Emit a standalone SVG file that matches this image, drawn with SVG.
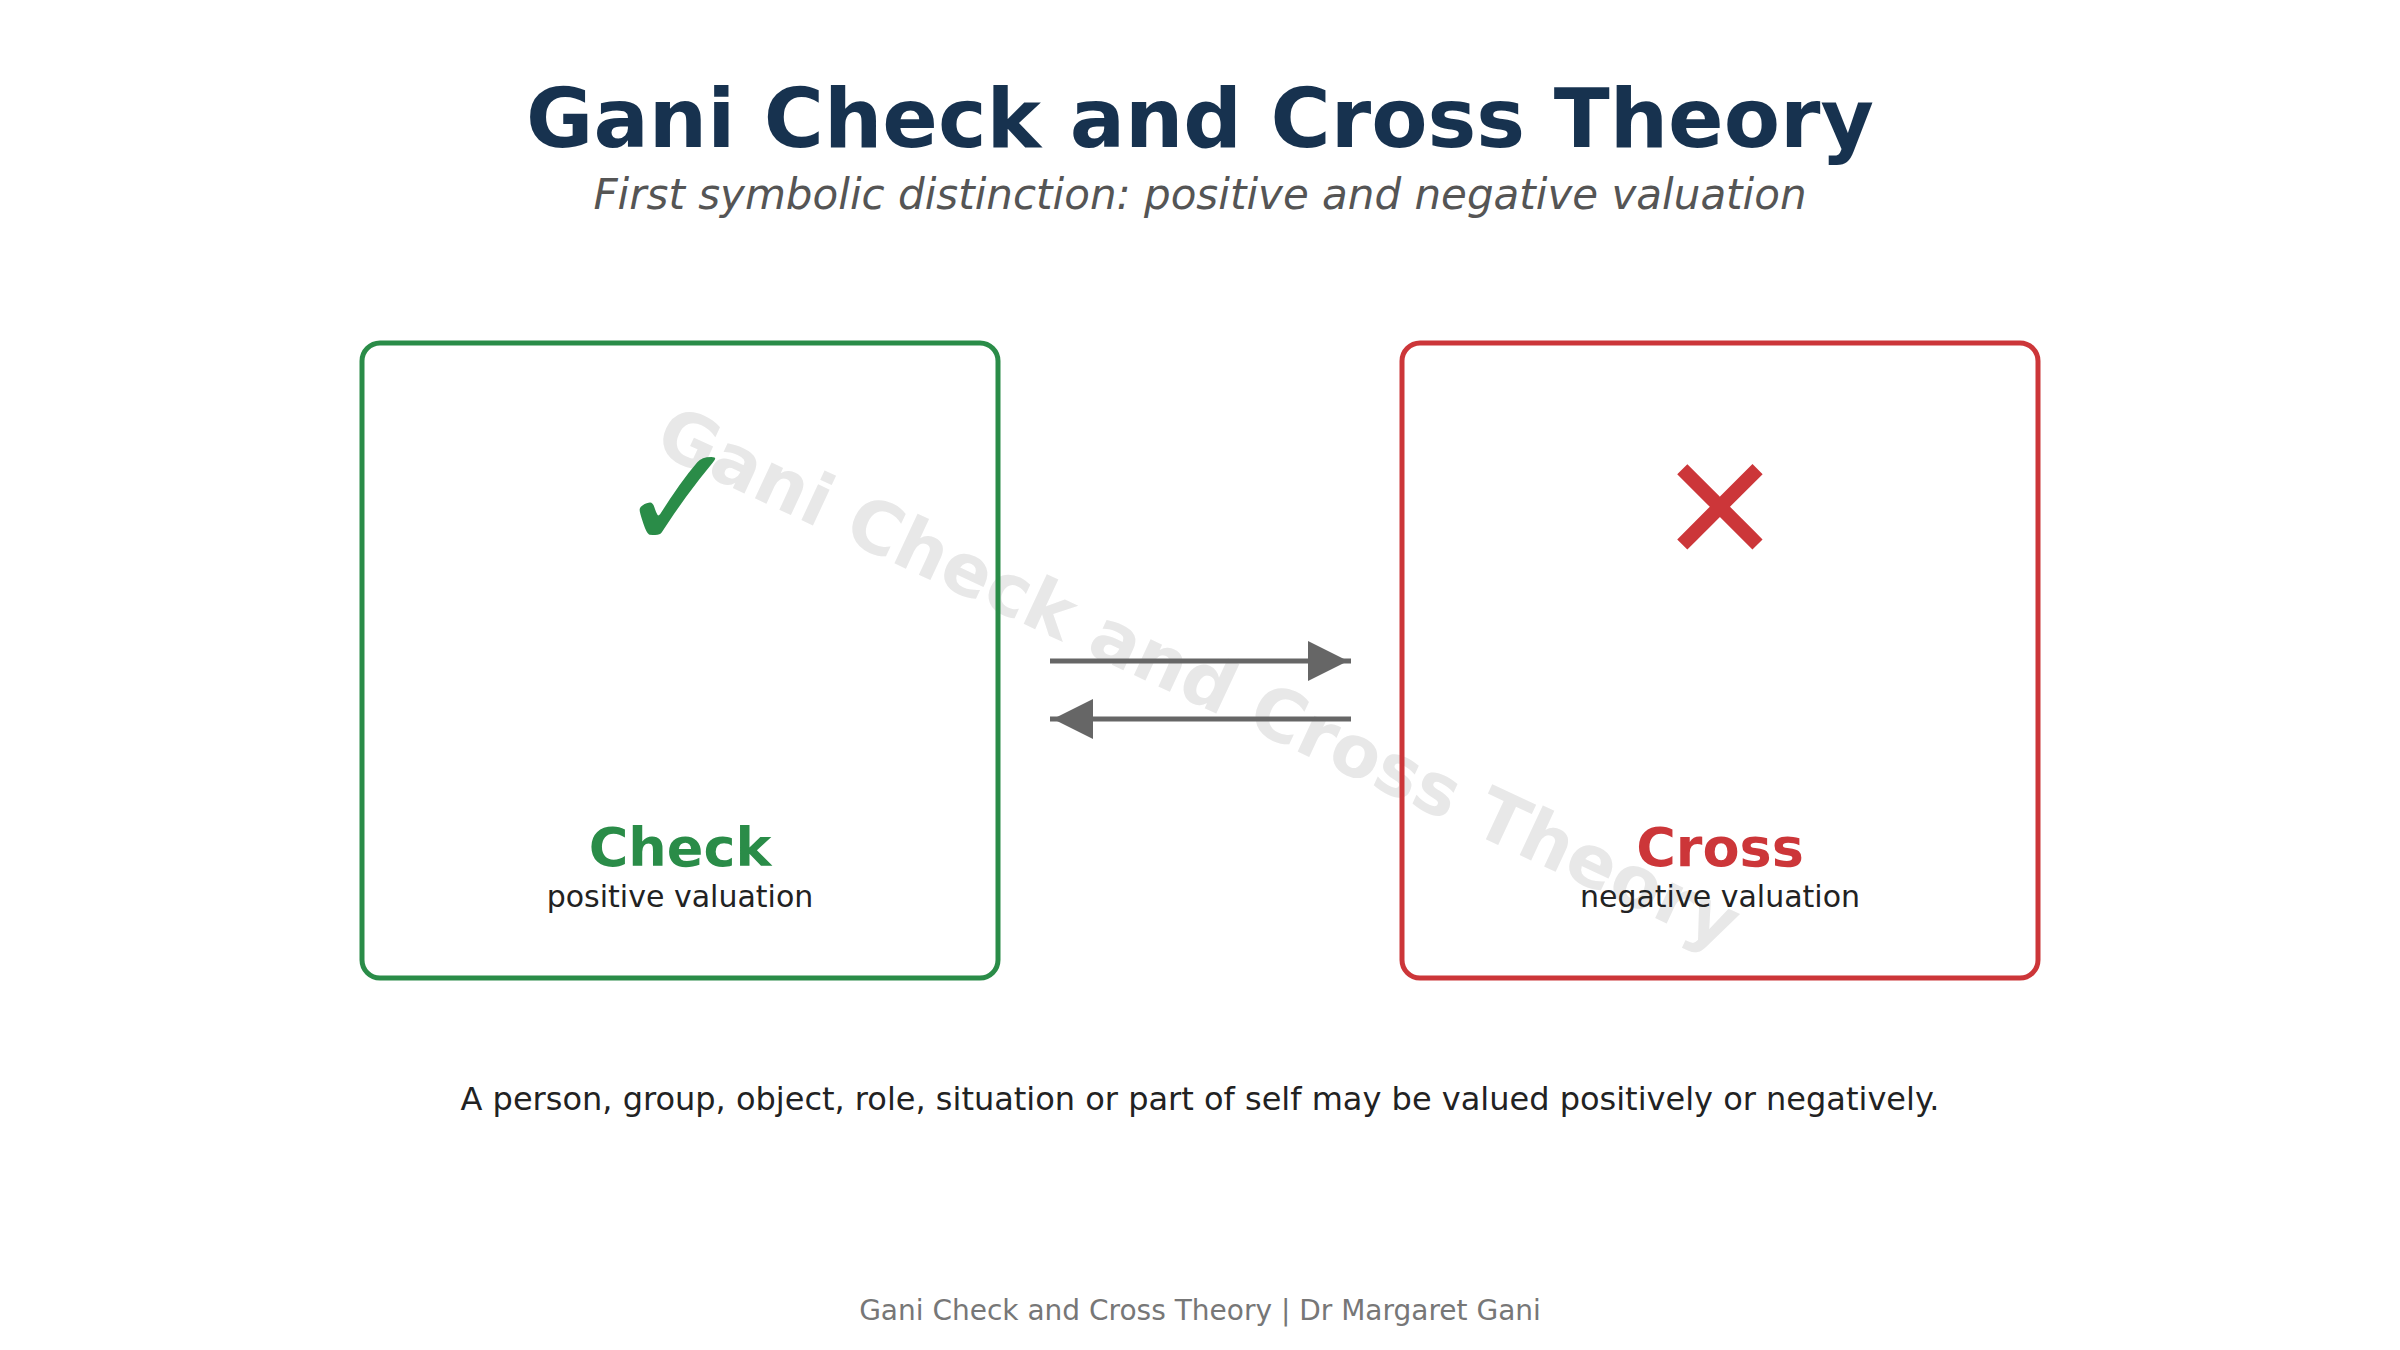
<svg xmlns="http://www.w3.org/2000/svg" width="2400" height="1350" viewBox="0 0 2400 1350">
<style>
.t{font-family:"DejaVu Sans","Liberation Sans",sans-serif}
.title{font-size:82px;font-weight:bold;fill:#17324f}
.sub{font-size:42px;font-style:italic;fill:#555}
.wm{font-size:72px;font-weight:bold;fill:#e8e8e8}
.lbl{font-size:54px;font-weight:bold}
.sym{font-size:146px;font-weight:bold}
.desc{font-size:30px;fill:#222}
.body{font-size:32px;fill:#222}
.foot{font-size:28px;fill:#777}
.box{fill:none;stroke-width:5}
.conn{stroke:#666;stroke-width:5;fill:none}
</style>
<defs>
<marker id="ah" viewBox="0 0 8 8" refX="8.6" refY="4" markerWidth="8" markerHeight="8" markerUnits="strokeWidth" orient="auto">
<path d="M0,0 L8,4 L0,8 Z" fill="#666"/>
</marker>
</defs>
<rect width="2400" height="1350" fill="#fff"/>
<text class="t title" x="1200" y="147" text-anchor="middle">Gani Check and Cross Theory</text>
<text class="t sub" x="1200" y="209" text-anchor="middle">First symbolic distinction: positive and negative valuation</text>
<text class="t wm" x="1200" y="703" text-anchor="middle" transform="rotate(25 1200 675)">Gani Check and Cross Theory</text>
<g id="check">
<rect class="box" x="362" y="343" width="636" height="635" rx="18" stroke="#2a8c48"/>
<text class="t sym" x="679" y="549" text-anchor="middle" fill="#2a8c48">✓</text>
<text class="t lbl" x="680" y="866" text-anchor="middle" fill="#2a8c48">Check</text>
<text class="t desc" x="680" y="907" text-anchor="middle">positive valuation</text>
</g>
<g id="cross">
<rect class="box" x="1402" y="343" width="636" height="635" rx="18" stroke="#cc3639"/>
<text class="t sym" x="1720" y="560" text-anchor="middle" fill="#cc3639">✕</text>
<text class="t lbl" x="1720" y="866" text-anchor="middle" fill="#cc3639">Cross</text>
<text class="t desc" x="1720" y="907" text-anchor="middle">negative valuation</text>
</g>
<g id="connectors">
<line class="conn" x1="1050" y1="661" x2="1351" y2="661" marker-end="url(#ah)"/>
<line class="conn" x1="1351" y1="719" x2="1050" y2="719" marker-end="url(#ah)"/>
</g>
<text class="t body" x="1200" y="1110" text-anchor="middle">A person, group, object, role, situation or part of self may be valued positively or negatively.</text>
<text class="t foot" x="1200" y="1320" text-anchor="middle">Gani Check and Cross Theory | Dr Margaret Gani</text>
</svg>
